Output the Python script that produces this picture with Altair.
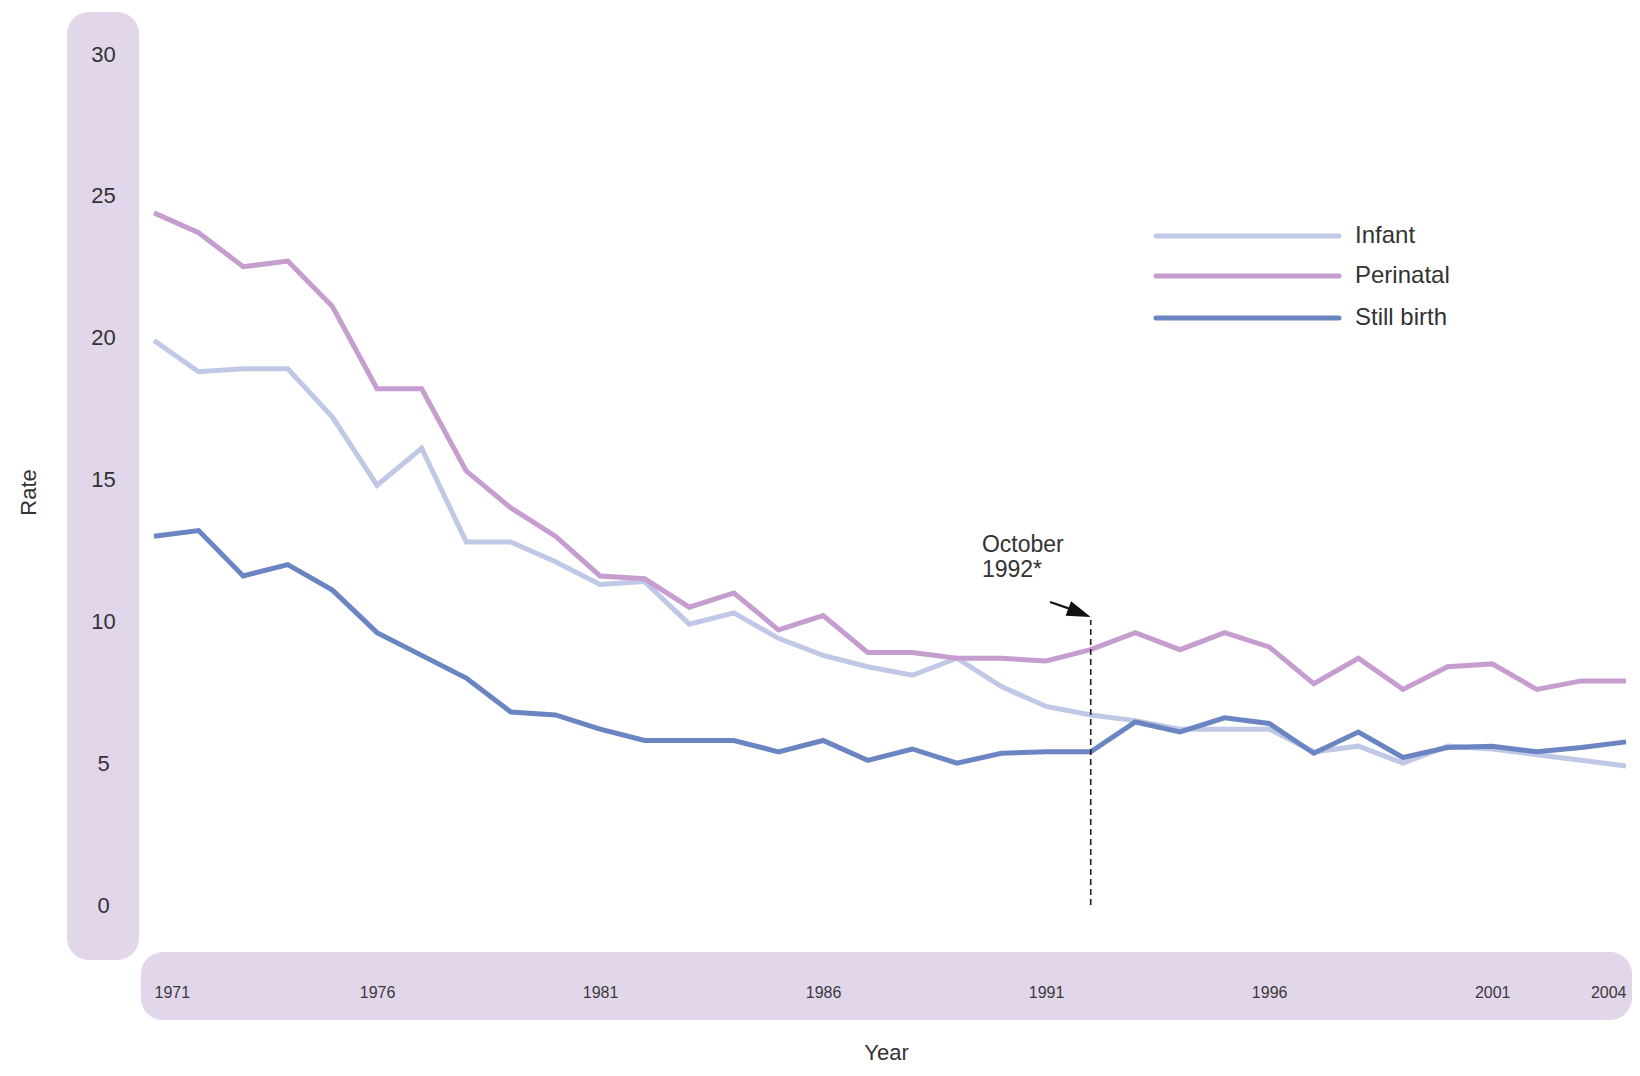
import altair as alt
import pandas as pd

years = list(range(1971, 2005))
infant = [19.9, 18.8, 18.9, 18.9, 17.2, 14.8, 16.1, 12.8, 12.8, 12.1,
          11.3, 11.4, 9.9, 10.3, 9.4, 8.8, 8.4, 8.1, 8.7, 7.7,
          7.0, 6.7, 6.5, 6.2, 6.2, 6.2, 5.4, 5.6, 5.0, 5.6,
          5.5, 5.3, 5.1, 4.9]
perinatal = [24.4, 23.7, 22.5, 22.7, 21.1, 18.2, 18.2, 15.3, 14.0, 13.0,
             11.6, 11.5, 10.5, 11.0, 9.7, 10.2, 8.9, 8.9, 8.7, 8.7,
             8.6, 9.0, 9.6, 9.0, 9.6, 9.1, 7.8, 8.7, 7.6, 8.4,
             8.5, 7.6, 7.9, 7.9]
stillbirth = [13.0, 13.2, 11.6, 12.0, 11.1, 9.6, 8.8, 8.0, 6.8, 6.7,
              6.2, 5.8, 5.8, 5.8, 5.4, 5.8, 5.1, 5.5, 5.0, 5.35,
              5.4, 5.4, 6.45, 6.1, 6.6, 6.4, 5.35, 6.1, 5.2, 5.55,
              5.6, 5.4, 5.55, 5.75]

series_names = ["Infant", "Perinatal", "Still birth"]
series_colors = ["#bfc8e5", "#c69dcf", "#6b85c3"]
x_tick_values = [1971, 1976, 1981, 1986, 1991, 1996, 2001, 2004]
y_tick_values = [0, 5, 10, 15, 20, 25, 30]

# annotation
event_year = [1992]
event_top = [10.05]
note_text = ["October", "1992*"]
note_pos = [1989.56, 12.45]
arrow_x = [1991.09, 1991.7]
arrow_y = [10.68, 10.35]
arrow_tip = [1992.0, 10.15]

W, H = 1472, 851
BAND = "#e2d6ea"
TEXT = "#333333"
FONT = "Liberation Sans"

rows = []
for name, vals in zip(series_names, [infant, perinatal, stillbirth]):
    for y, v in zip(years, vals):
        rows.append({"Year": y, "Rate": v, "Series": name})
df = pd.DataFrame(rows)

xs = alt.Scale(domain=[1971, 2004], nice=False, zero=False)
ys = alt.Scale(domain=[0, 30], nice=False, zero=True)

# background bands behind the axes (pixel layout)
bands = pd.DataFrame([
    {"x": -87, "x2": -15, "y": -42, "y2": 906},
    {"x": -13, "x2": W + 6, "y": 898, "y2": 966},
])
band_layer = alt.Chart(bands).mark_rect(color=BAND, cornerRadius=22).encode(
    x=alt.X("x:Q", scale=None), x2="x2:Q",
    y=alt.Y("y:Q", scale=None), y2="y2:Q",
)

lines = alt.Chart(df).mark_line(strokeWidth=5, strokeJoin="miter").encode(
    x=alt.X("Year:Q", scale=xs, title="Year",
            axis=alt.Axis(values=x_tick_values, format="d", labelFlush=True,
                          domain=False, ticks=False, tickSize=0, grid=False,
                          labelPadding=87, labelBaseline="middle",
                          labelFontSize=16, labelColor="#3a3a3a", labelFont=FONT,
                          titleFont=FONT, titleFontSize=22, titleFontWeight="normal",
                          titleColor=TEXT, titleX=732, titleY=147,
                          titleBaseline="middle", titleAlign="center", zindex=1)),
    y=alt.Y("Rate:Q", scale=ys, title="Rate",
            axis=alt.Axis(values=y_tick_values, domain=False, ticks=False, tickSize=0,
                          grid=False, labelPadding=51, labelAlign="center",
                          labelBaseline="middle",
                          labelFontSize=22, labelColor=TEXT, labelFont=FONT,
                          titleFont=FONT, titleFontSize=22, titleFontWeight="normal",
                          titleColor=TEXT, titleX=-126, titleY=438, titleAngle=-90,
                          titleBaseline="middle", titleAlign="center", zindex=1)),
    color=alt.Color("Series:N", scale=alt.Scale(domain=series_names, range=series_colors),
                    legend=None),
    detail="Series:N",
)

rule_df = pd.DataFrame({"Year": event_year, "top": event_top, "bottom": [0]})
event_rule = alt.Chart(rule_df).mark_rule(color="#222222", strokeWidth=1.6,
                                          strokeDash=[6, 4]).encode(
    x=alt.X("Year:Q", scale=xs), y=alt.Y("bottom:Q", scale=ys), y2="top:Q")

note_df = pd.DataFrame({"Year": [note_pos[0]], "Rate": [note_pos[1]], "t": [note_text]})
note = alt.Chart(note_df).mark_text(align="left", baseline="alphabetic", fontSize=23,
                                    font=FONT, color=TEXT, lineHeight=25).encode(
    x=alt.X("Year:Q", scale=xs), y=alt.Y("Rate:Q", scale=ys), text="t")

arrow_df = pd.DataFrame({"Year": arrow_x, "Rate": arrow_y})
arrow_line = alt.Chart(arrow_df).mark_line(color="#111111", strokeWidth=2.2).encode(
    x=alt.X("Year:Q", scale=xs), y=alt.Y("Rate:Q", scale=ys))
head_df = pd.DataFrame({"Year": [arrow_tip[0]], "Rate": [arrow_tip[1]]})
arrow_head = alt.Chart(head_df).mark_point(
    shape="M0,0 L-1,-0.32 L-1,0.32 Z", size=2300, angle=21, filled=True,
    color="#111111", opacity=1).encode(
    x=alt.X("Year:Q", scale=xs), y=alt.Y("Rate:Q", scale=ys))

# legend (pixel layout)
leg = pd.DataFrame({
    "Series": series_names,
    "x": [1002] * 3, "x2": [1185] * 3,
    "y": [182, 222, 264], "tx": [1201] * 3,
})
leg_lines = alt.Chart(leg).mark_rule(strokeWidth=5, strokeCap="round").encode(
    x=alt.X("x:Q", scale=None), x2="x2:Q", y=alt.Y("y:Q", scale=None),
    color=alt.Color("Series:N", scale=alt.Scale(domain=series_names, range=series_colors),
                    legend=None))
leg_text = alt.Chart(leg).mark_text(align="left", baseline="middle", fontSize=24,
                                    font=FONT, color=TEXT).encode(
    x=alt.X("tx:Q", scale=None), y=alt.Y("y:Q", scale=None), text="Series:N")

chart = alt.layer(band_layer, lines, event_rule, note, arrow_line, arrow_head,
                  leg_lines, leg_text).properties(
    width=W, height=H,
    autosize=alt.AutoSizeParams(type="none"),
    padding={"left": 146, "top": 46, "right": 6, "bottom": 163},
).configure(background="white").configure_view(strokeWidth=0, strokeOpacity=0)

chart.save("out.html", embed_options={"renderer": "svg", "actions": False})
